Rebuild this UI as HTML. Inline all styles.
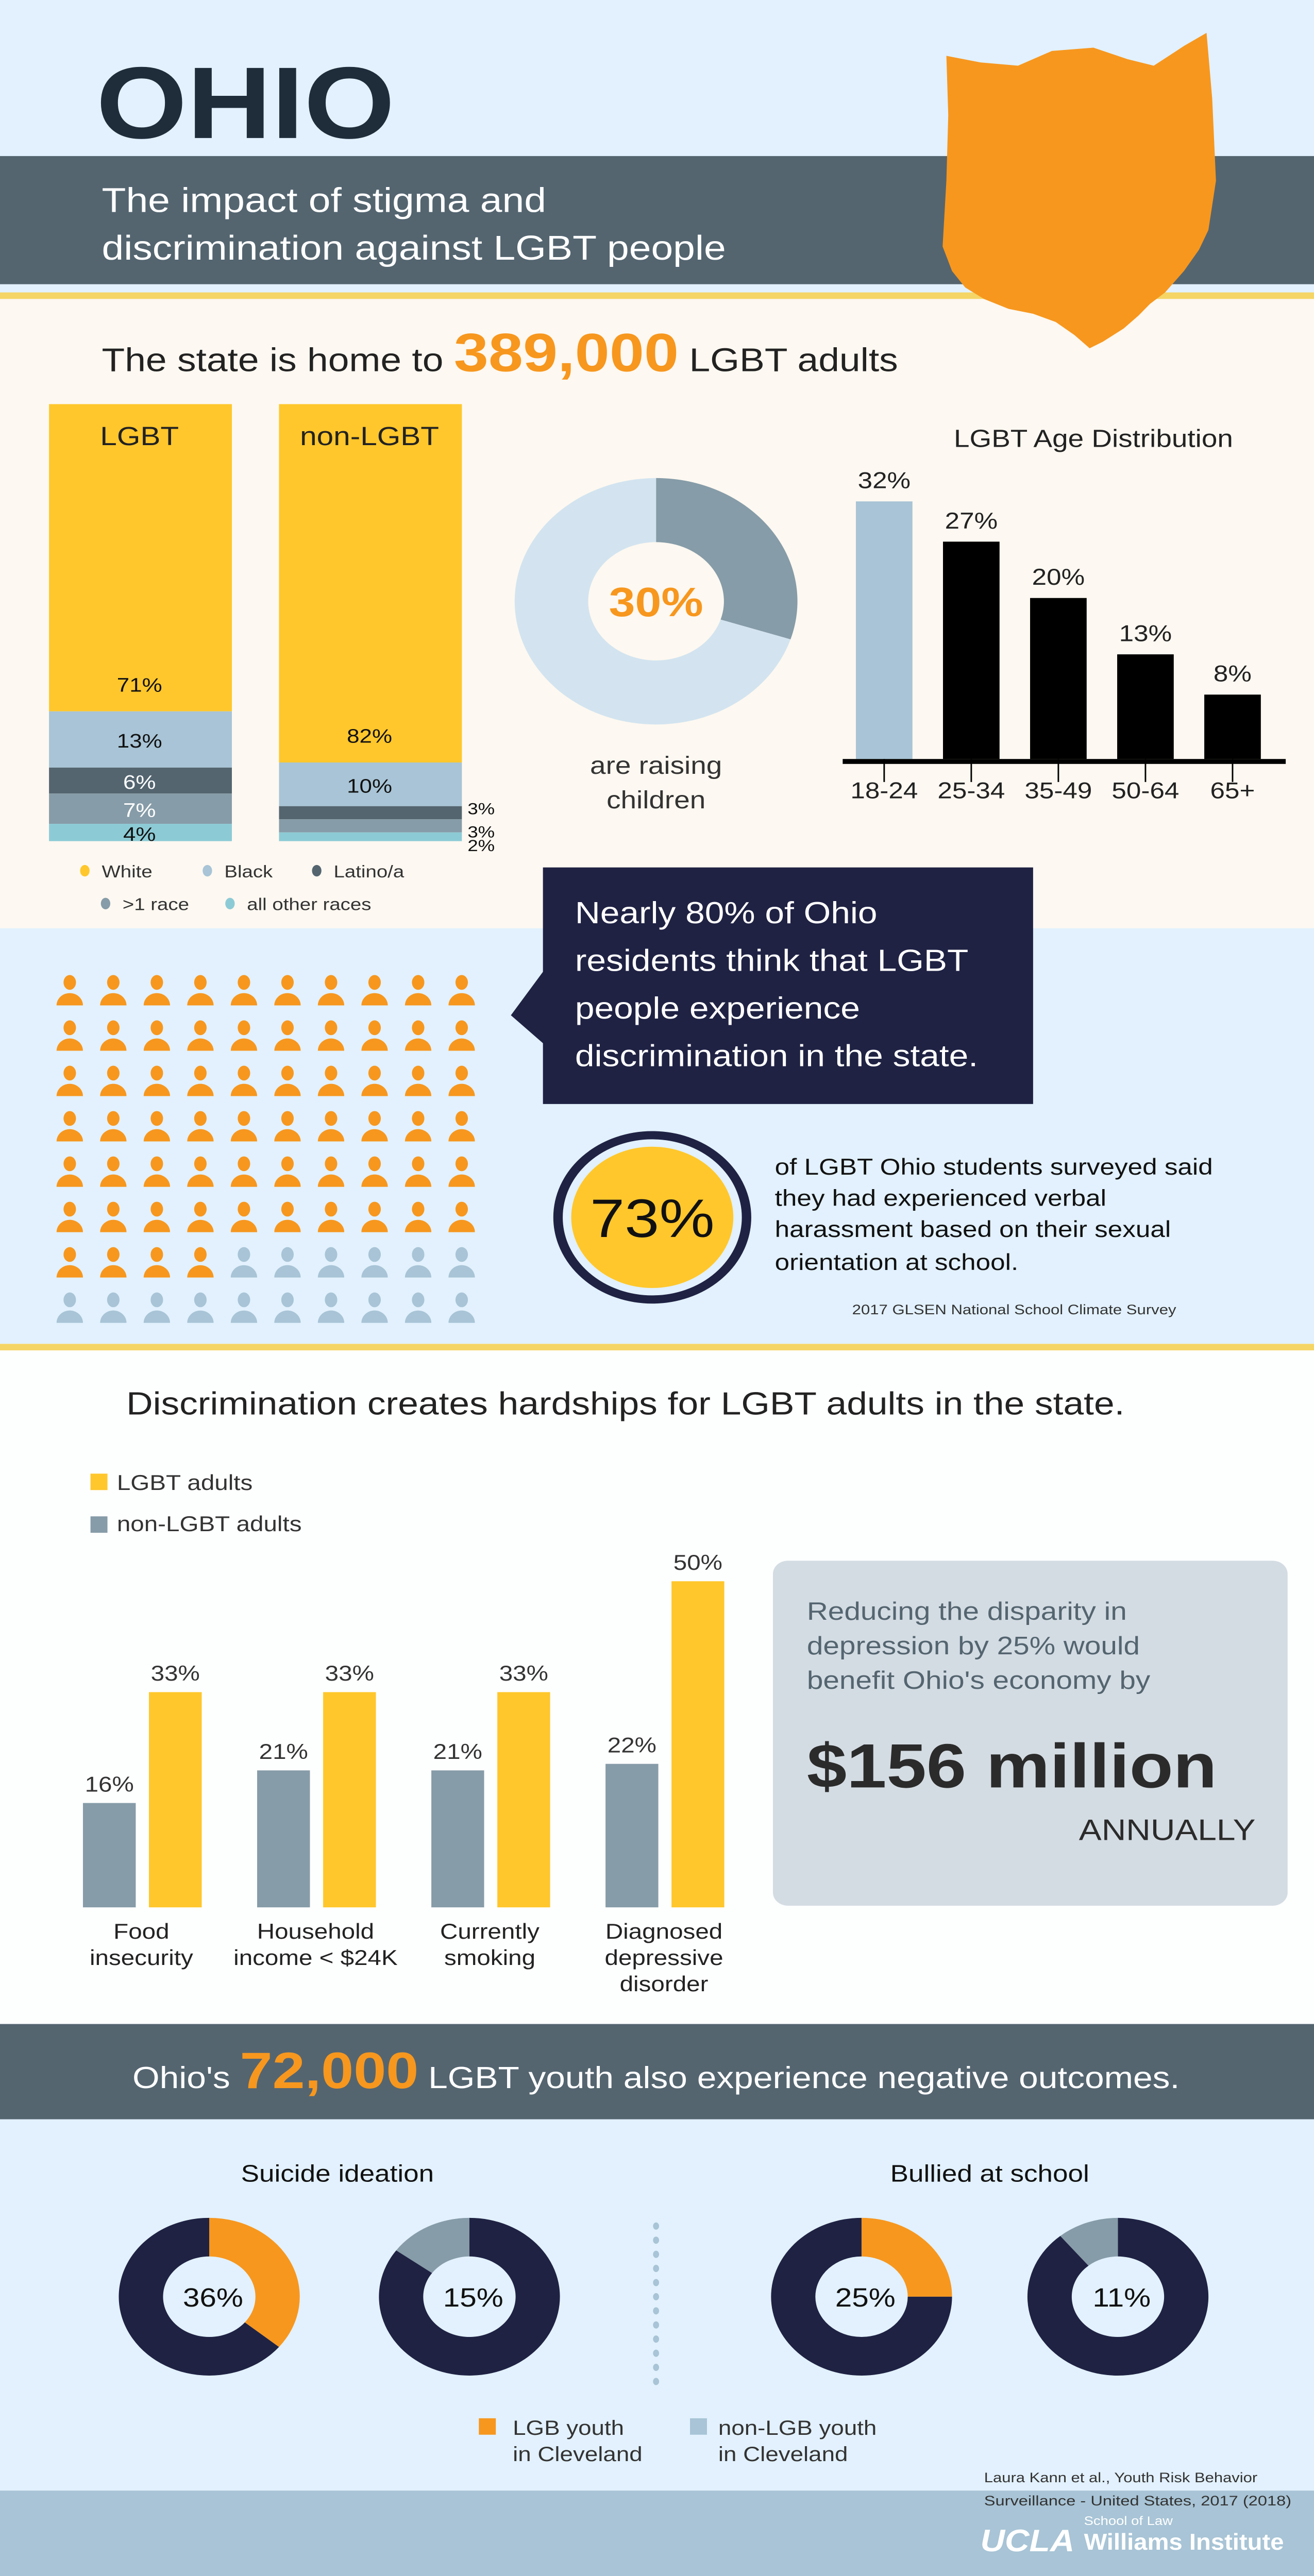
<!DOCTYPE html>
<html><head><meta charset="utf-8"><style>
html,body{margin:0;padding:0;background:#fff;width:100%;height:100%;overflow:hidden}
svg{display:block;width:100vw;height:100vh}
text{font-family:"Liberation Sans",sans-serif}
</style></head><body>
<svg id="root" viewBox="0 0 697 1568" preserveAspectRatio="none" xmlns="http://www.w3.org/2000/svg">
<rect x="0" y="0" width="697" height="182" fill="#e2f1fd"/>
<rect x="0" y="95" width="697" height="78" fill="#546570"/>
<rect x="0" y="178" width="697" height="4" fill="#f5d565"/>
<rect x="0" y="182" width="697" height="383" fill="#fdf8f1"/>
<rect x="0" y="565" width="697" height="253" fill="#e2f1fd"/>
<rect x="0" y="818" width="697" height="4" fill="#f5d565"/>
<rect x="0" y="822" width="697" height="410" fill="#fdfefe"/>
<rect x="0" y="1232" width="697" height="58" fill="#546570"/>
<rect x="0" y="1290" width="697" height="226" fill="#e2f1fd"/>
<rect x="0" y="1516" width="697" height="52" fill="#a8c4d6"/>

<text x="51" y="84" font-size="62" font-weight="bold" fill="#1f2d3a">OHIO</text>
<text x="54" y="129" font-size="21" fill="#fff">The impact of stigma and</text>
<text x="54" y="158" font-size="21" fill="#fff">discrimination against LGBT people</text>
<polygon fill="#f7971e" points="502,34 520,38 540,40 558,31 580,29 598,36 612,40 628,28 640,20 643,60 645,110 641,140 636,152 628,165 618,178 610,185 604,192 596,200 585,208 578,212 570,204 560,196 548,191 535,188 522,182 512,175 505,165 500,150 502,110 503,70"/>

<text x="54" y="226" font-size="20" fill="#222">The state is home to <tspan font-size="33" font-weight="bold" fill="#f7971e">389,000</tspan> LGBT adults</text>

<g id="race"></g>
<g id="parents"></g>
<g id="age"></g>

<g>
<rect x="288" y="528" width="260" height="144" fill="#1f2243"/>
<polygon points="289,590 271,618 289,636" fill="#1f2243"/>
<text x="305" y="562" font-size="18.5" fill="#fff">Nearly 80% of Ohio</text>
<text x="305" y="591" font-size="18.5" fill="#fff">residents think that LGBT</text>
<text x="305" y="620" font-size="18.5" fill="#fff">people experience</text>
<text x="305" y="649" font-size="18.5" fill="#fff">discrimination in the state.</text>
</g>
<g id="people"></g>
<g>
<circle cx="346" cy="741" r="50" fill="none" stroke="#1f2243" stroke-width="5"/>
<circle cx="346" cy="741" r="43" fill="#ffc72c"/>
<text x="346" y="753" font-size="33" text-anchor="middle" fill="#111">73%</text>
<text x="411" y="715" font-size="14" fill="#111">of LGBT Ohio students surveyed said</text>
<text x="411" y="734" font-size="14" fill="#111">they had experienced verbal</text>
<text x="411" y="753" font-size="14" fill="#111">harassment based on their sexual</text>
<text x="411" y="773" font-size="14" fill="#111">orientation at school.</text>
<text x="452" y="800" font-size="8.5" fill="#333">2017 GLSEN National School Climate Survey</text>
</g>

<text x="67" y="861" font-size="19.5" fill="#222">Discrimination creates hardships for LGBT adults in the state.</text>
<g id="hard"></g>
<g>
<rect x="410" y="950" width="273" height="210" rx="8" fill="#d4dce3"/>
<text x="428" y="986" font-size="15.5" fill="#546570">Reducing the disparity in</text>
<text x="428" y="1007" font-size="15.5" fill="#546570">depression by 25% would</text>
<text x="428" y="1028" font-size="15.5" fill="#546570">benefit Ohio's economy by</text>
<text x="428" y="1088" font-size="38" font-weight="bold" fill="#2b2b2b">$156 million</text>
<text x="666" y="1120" font-size="18" text-anchor="end" fill="#2b2b2b">ANNUALLY</text>
</g>

<text x="348" y="1271" font-size="18.5" text-anchor="middle" fill="#fff">Ohio's <tspan font-size="31" font-weight="bold" fill="#f7971e">72,000</tspan> LGBT youth also experience negative outcomes.</text>
<text x="179" y="1328" font-size="14.5" text-anchor="middle" fill="#111">Suicide ideation</text>
<text x="525" y="1328" font-size="14.5" text-anchor="middle" fill="#111">Bullied at school</text>
<g id="youth"></g>
<g id="dots"></g>
<g>
<rect x="254" y="1472" width="9" height="10" fill="#f7971e"/>
<text x="272" y="1482" font-size="12.5" fill="#333">LGB youth</text>
<text x="272" y="1498" font-size="12.5" fill="#333">in Cleveland</text>
<rect x="366" y="1472" width="9" height="10" fill="#a8c4d6"/>
<text x="381" y="1482" font-size="12.5" fill="#333">non-LGB youth</text>
<text x="381" y="1498" font-size="12.5" fill="#333">in Cleveland</text>
</g>
<text x="522" y="1511" font-size="8.5" fill="#333" textLength="145" lengthAdjust="spacingAndGlyphs">Laura Kann et al., Youth Risk Behavior</text>
<text x="522" y="1525" font-size="8.5" fill="#333" textLength="163" lengthAdjust="spacingAndGlyphs">Surveillance - United States, 2017 (2018)</text>
<g>
<text x="520" y="1553" font-size="19" font-weight="bold" font-style="italic" fill="#fff" textLength="50" lengthAdjust="spacingAndGlyphs">UCLA</text>
<text x="575" y="1537" font-size="7.5" fill="#fff">School of Law</text>
<text x="575" y="1552" font-size="14" font-weight="bold" fill="#fff" textLength="106" lengthAdjust="spacingAndGlyphs">Williams Institute</text>
</g>
</svg>
<script>
const NS='http://www.w3.org/2000/svg';
const raceNames=['White','Black','Latino/a','>1 race','all other races'];
const lgbtRace=[71,13,6,7,4];
const nonLgbtRace=[82,10,3,3,2];
const raisingChildren=30;
const ageGroups=['18-24','25-34','35-49','50-64','65+'];
const ageShares=[32,27,20,13,8];
const agreeDiscrimination=80;
const hardshipCats=[['Food','insecurity'],['Household','income < $24K'],['Currently','smoking'],['Diagnosed','depressive','disorder']];
const hardLgbt=[33,33,33,50];
const hardNon=[16,21,21,22];
const youthLabels=['suicide-lgb','suicide-non-lgb','bullied-lgb','bullied-non-lgb'];
const youthValues=[36,15,25,11];

const raceColors=['#ffc72c','#a8c4d6','#546570','#869ca8','#8ccbd6'];
function mk(tag,attrs,parent){const e=document.createElementNS(NS,tag);for(const k in attrs)e.setAttribute(k,attrs[k]);parent.appendChild(e);return e;}
function txt(s,attrs,parent){const e=mk('text',attrs,parent);e.textContent=s;return e;}

const race=document.getElementById('race');
function stack(vals,x,label,outside){
  const top=246,bot=512,h=bot-top,sum=vals.reduce((a,b)=>a+b,0);
  let y=top;
  vals.forEach((v,i)=>{
    const sh=v/sum*h;
    const r=mk('rect',{x:x,y:y,width:97,height:sh,fill:raceColors[i]},race);
    
    
    let ty;
    if(outside&&i>=2){ty=y+sh/2+4;if(i==2)ty=y+2;if(i==4)ty=y+sh+3;
      const t=txt(v+'%',{x:x+100,y:ty+3,'font-size':10,fill:'#111'},race);
      }
    else{ty=(i==0)?y+sh-12:y+sh/2+5;
      const t=txt(v+'%',{x:x+48,y:ty,'font-size':12,'text-anchor':'middle',fill:(i==2||i==3)?'#fff':'#111'},race);
      }
    y+=sh;
  });
  const t=txt(label,{x:x+48,y:271,'font-size':16,'text-anchor':'middle',fill:'#222'},race);
  
}
stack(lgbtRace,26,'LGBT',false);
stack(nonLgbtRace,148,'non-LGBT',true);
const legPos=[[45,533],[110,533],[168,533],[56,553],[122,553]];
raceNames.forEach((n,i)=>{
  const g=mk('g',{},race);
  
  
  mk('ellipse',{cx:legPos[i][0],cy:legPos[i][1]-3,rx:2.5,ry:3.5,fill:raceColors[i]},g);
  txt(n,{x:legPos[i][0]+9,y:legPos[i][1]+1,'font-size':10.5,fill:'#333'},g);
});

function arc(cx,cy,R,r,a0,a1,fill,parent){
  const p=(a,rad)=>[cx+rad*Math.sin(a),cy-rad*Math.cos(a)];
  const large=(a1-a0)>Math.PI?1:0;
  const [x0,y0]=p(a0,R),[x1,y1]=p(a1,R),[x2,y2]=p(a1,r),[x3,y3]=p(a0,r);
  return mk('path',{d:`M${x0},${y0}A${R},${R} 0 ${large} 1 ${x1},${y1}L${x2},${y2}A${r},${r} 0 ${large} 0 ${x3},${y3}Z`,fill:fill},parent);
}
const par=document.getElementById('parents');
const pcx=348,pcy=366;
let e=arc(pcx,pcy,75,36,0,2*Math.PI*raisingChildren/100,'#869ca8',par);


e=arc(pcx,pcy,75,36,2*Math.PI*raisingChildren/100,2*Math.PI-0.0001,'#d3e4f0',par);


e=txt(raisingChildren+'%',{x:pcx,y:pcy+9,'font-size':25,'font-weight':'bold','text-anchor':'middle',fill:'#f7971e'},par);


e=txt('are raising',{x:pcx,y:471,'font-size':15,'text-anchor':'middle',fill:'#333'},par);


e=txt('children',{x:pcx,y:492,'font-size':15,'text-anchor':'middle',fill:'#333'},par);



const age=document.getElementById('age');
const ageBase=462,agePer=4.9;
const ageX=i=>469+i*46.2;
e=txt('LGBT Age Distribution',{x:580,y:272,'font-size':15,'text-anchor':'middle',fill:'#222'},age);


ageShares.forEach((v,i)=>{
  const h=v*agePer,x=ageX(i);
  const r=mk('rect',{x:x-15,y:ageBase-h,width:30,height:h,fill:i==0?'#a8c4d6':'#000'},age);
  
  
  const t=txt(v+'%',{x:x,y:ageBase-h-8,'font-size':14,'text-anchor':'middle',fill:'#222'},age);
  
  
  const tk=mk('line',{x1:x,y1:ageBase,x2:x,y2:ageBase+14,stroke:'#000','stroke-width':0.8},age);
  
  
  const l=txt(ageGroups[i],{x:x,y:486,'font-size':14,'text-anchor':'middle',fill:'#222'},age);
  
  
});
e=mk('rect',{x:447,y:ageBase,width:235,height:3,fill:'#000'},age);



const ppl=document.getElementById('people');
const totalIcons=80,orangeCount=Math.round(totalIcons*agreeDiscrimination/100);
for(let k=0;k<totalIcons;k++){
  const col=k%10,row=Math.floor(k/10);
  const cx=37+col*23.1,cy=598+row*27.6;
  const c=k<orangeCount?'#f7971e':'#a8c4d6';
  const g=mk('g',{},ppl);
  
  
  mk('ellipse',{cx:cx,cy:cy,rx:3.3,ry:4.5,fill:c},g);
  mk('path',{d:`M${cx-7},${cy+14}A7,7.5 0 0 1 ${cx+7},${cy+14}Z`,fill:c},g);
}

const hard=document.getElementById('hard');
const hBase=1161,hPer=3.97;
const gx=i=>44+i*92.4;
let lg=mk('g',{},hard);


mk('rect',{x:48,y:897,width:9,height:10,fill:'#ffc72c'},lg);
txt('LGBT adults',{x:62,y:907,'font-size':13,fill:'#333'},lg);
lg=mk('g',{},hard);


mk('rect',{x:48,y:923,width:9,height:10,fill:'#869ca8'},lg);
txt('non-LGBT adults',{x:62,y:932,'font-size':13,fill:'#333'},lg);
hardshipCats.forEach((cat,i)=>{
  const x=gx(i);
  [[hardNon[i],'#869ca8',x,'non-lgbt'],[hardLgbt[i],'#ffc72c',x+35,'lgbt']].forEach(([v,c,bx,s])=>{
    const h=v*hPer;
    const r=mk('rect',{x:bx,y:hBase-h,width:28,height:h,fill:c},hard);
    
    
    const t=txt(v+'%',{x:bx+14,y:hBase-h-7,'font-size':13,'text-anchor':'middle',fill:'#333'},hard);
    
    
  });
  cat.forEach((line,j)=>{
    const t=txt(line,{x:x+31,y:1180+j*16,'font-size':13,'text-anchor':'middle',fill:'#222'},hard);
    
    
  });
});

const youth=document.getElementById('youth');
const yCx=[111,249,457,593];
youthValues.forEach((v,i)=>{
  const cx=yCx[i],cy=1398,R=48,r=24.5,frac=2*Math.PI*v/100;
  const g=mk('g',{},youth);
  
  
  if(i%2==0){arc(cx,cy,R,r,0,frac,'#f7971e',g);arc(cx,cy,R,r,frac,2*Math.PI-0.0001,'#1f2243',g);}
  else{arc(cx,cy,R,r,2*Math.PI-frac,2*Math.PI-0.0001,'#869ca8',g);arc(cx,cy,R,r,0,2*Math.PI-frac,'#1f2243',g);}
  txt(v+'%',{x:cx+2,y:cy+6,'font-size':16,'text-anchor':'middle',fill:'#111'},g);
});
const dots=document.getElementById('dots');
for(let k=0;k<12;k++){
  const d=mk('ellipse',{cx:348,cy:1355+k*8.6,rx:1.6,ry:2.2,fill:'#a8c4d6'},dots);
  
  
}
</script>
</body></html>
